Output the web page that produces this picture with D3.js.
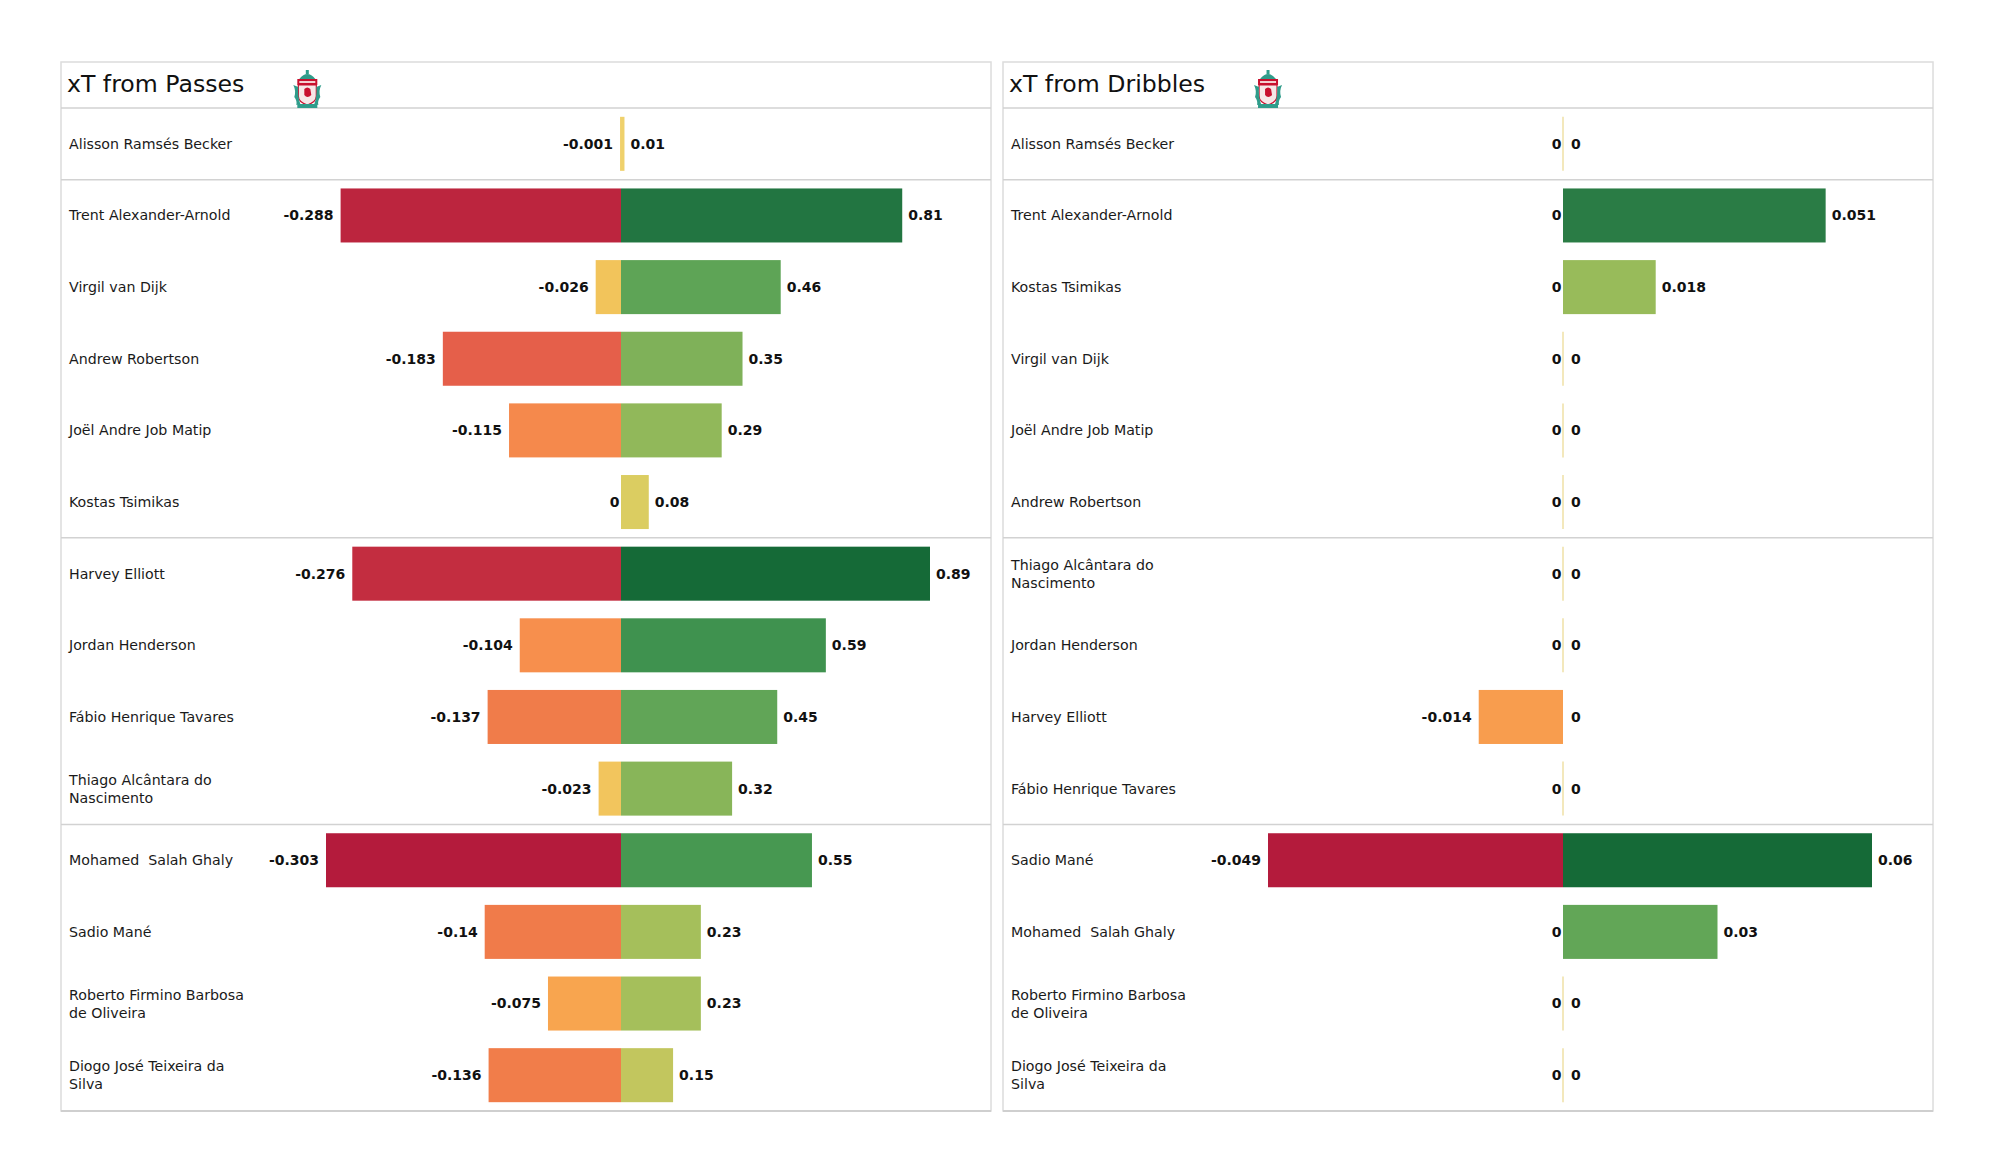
<!DOCTYPE html>
<html>
<head>
<meta charset="utf-8">
<script src="https://cdn.jsdelivr.net/npm/d3@7"></script>
<style>
  html, body { margin: 0; padding: 0; background: #ffffff; }
  svg { display: block; font-family: "DejaVu Sans", sans-serif; }
</style>
</head>
<body>
<svg id="chart" width="2000" height="1175"></svg>
<script>
// ---------- DATA ----------
const passTitle = "xT from Passes";
const passPlayers = [
  "Alisson Ramsés Becker", "Trent Alexander-Arnold", "Virgil van Dijk", "Andrew Robertson",
  "Joël Andre Job Matip", "Kostas Tsimikas", "Harvey Elliott", "Jordan Henderson",
  "Fábio Henrique Tavares", "Thiago Alcântara do Nascimento", "Mohamed  Salah Ghaly",
  "Sadio Mané", "Roberto Firmino Barbosa de Oliveira", "Diogo José Teixeira da Silva"
];
const passNeg = [-0.001, -0.288, -0.026, -0.183, -0.115, 0, -0.276, -0.104, -0.137, -0.023, -0.303, -0.14, -0.075, -0.136];
const passPos = [0.01, 0.81, 0.46, 0.35, 0.29, 0.08, 0.89, 0.59, 0.45, 0.32, 0.55, 0.23, 0.23, 0.15];

const dribTitle = "xT from Dribbles";
const dribPlayers = [
  "Alisson Ramsés Becker", "Trent Alexander-Arnold", "Kostas Tsimikas", "Virgil van Dijk",
  "Joël Andre Job Matip", "Andrew Robertson", "Thiago Alcântara do Nascimento", "Jordan Henderson",
  "Harvey Elliott", "Fábio Henrique Tavares", "Sadio Mané", "Mohamed  Salah Ghaly",
  "Roberto Firmino Barbosa de Oliveira", "Diogo José Teixeira da Silva"
];
const dribNeg = [0, 0, 0, 0, 0, 0, 0, 0, -0.014, 0, -0.049, 0, 0, 0];
const dribPos = [0, 0.051, 0.018, 0, 0, 0, 0, 0, 0, 0, 0.06, 0.03, 0, 0];

// rows after which a group separator is drawn
const groupBreaks = [0, 5, 9];

// ---------- LAYOUT ----------
const svg = d3.select("#chart");
const panelTop = 62, headerBottom = 108, panelBottom = 1111;
const panelW = 930;
const zeroOffset = 560;
const negLen = 295, posLen = 309;

const negColor = d3.scaleLinear()
  .domain([0, 0.09, 0.25, 0.34, 0.46, 0.6, 0.91, 1])
  .range(["#f2d26e", "#f2c35a", "#f8a54f", "#f7904d", "#f07b4a", "#e5604a", "#c32d40", "#b41b3c"])
  .clamp(true);
const posColor = d3.scaleLinear()
  .domain([0, 0.1, 0.3, 0.5, 0.65, 0.9, 1])
  .range(["#f2d26e", "#d8cc60", "#98bb5a", "#62a657", "#409450", "#247642", "#156a37"])
  .clamp(true);

function wrap(name, width) {
  const words = name.split(" ");
  const lines = [];
  let cur = "";
  words.forEach((w, i) => {
    const cand = cur === "" && i === 0 ? w : cur + " " + w;
    if (cand.length > width && cur !== "") { lines.push(cur); cur = w; }
    else cur = cand;
  });
  lines.push(cur);
  return lines;
}

function drawCrest(g) {
  // simplified club crest (about 28 x 38)
  const teal = "#2f9c8a", red = "#c8102e";
  g.append("path").attr("d", "M6,9 Q14,-1 22,9 Z").attr("fill", teal);
  g.append("rect").attr("x", 12.5).attr("y", 0).attr("width", 3).attr("height", 4).attr("fill", teal);
  g.append("rect").attr("x", 4).attr("y", 9).attr("width", 20).attr("height", 6).attr("fill", red);
  g.append("rect").attr("x", 6).attr("y", 11).attr("width", 16).attr("height", 2).attr("fill", "#f3d0d0");
  g.append("path").attr("d", "M5,15 L23,15 L23,26 Q23,32 14,35 Q5,32 5,26 Z").attr("fill", "#f6e7e7").attr("stroke", red).attr("stroke-width", 1.2);
  g.append("path").attr("d", "M11,19 Q14,16 17,19 L18,25 Q14,29 11,25 Z").attr("fill", red);
  g.append("path").attr("d", "M0,15 Q3,21 1,27 Q4,31 3,35 L7,34 Q4,25 5,17 Z").attr("fill", teal);
  g.append("path").attr("d", "M28,15 Q25,21 27,27 Q24,31 25,35 L21,34 Q24,25 23,17 Z").attr("fill", teal);
  g.append("rect").attr("x", 4).attr("y", 34).attr("width", 20).attr("height", 4).attr("fill", teal);
}

function drawPanel(left, title, players, neg, pos) {
  const g = svg.append("g");
  const n = players.length;
  const zeroX = left + zeroOffset;

  const y = d3.scaleBand().domain(d3.range(n)).range([headerBottom, panelBottom])
    .paddingInner(0.246).paddingOuter(0.123);
  const rowH = (panelBottom - headerBottom) / n;

  const xNeg = d3.scaleLinear().domain([0, d3.max(neg, d => Math.abs(d))]).range([zeroX, zeroX - negLen]);
  const xPos = d3.scaleLinear().domain([0, d3.max(pos)]).range([zeroX, zeroX + posLen]);

  // panel frame
  g.append("rect").attr("x", left).attr("y", panelTop).attr("width", panelW)
    .attr("height", panelBottom - panelTop).attr("fill", "#ffffff")
    .attr("stroke", "#dcdcdc").attr("stroke-width", 1.5);
  g.append("line").attr("x1", left).attr("x2", left + panelW)
    .attr("y1", headerBottom).attr("y2", headerBottom)
    .attr("stroke", "#d2d2d2").attr("stroke-width", 1.5);
  g.append("line").attr("x1", left).attr("x2", left + panelW)
    .attr("y1", panelBottom).attr("y2", panelBottom)
    .attr("stroke", "#cfcfcf").attr("stroke-width", 2);

  groupBreaks.forEach(b => {
    const yy = headerBottom + (b + 1) * rowH;
    g.append("line").attr("x1", left).attr("x2", left + panelW)
      .attr("y1", yy).attr("y2", yy)
      .attr("stroke", "#d2d2d2").attr("stroke-width", 1.5);
  });

  // title
  const t = g.append("text").attr("x", left + 6).attr("y", 92)
    .attr("font-size", 23.6).attr("fill", "#111").text(title);
  const tw = t.node().getComputedTextLength();
  drawCrest(g.append("g").attr("transform", `translate(${left + 6 + tw + 49},70)`));

  const rows = d3.range(n).map(i => ({ i, name: players[i], neg: neg[i], pos: pos[i] }));

  // bars
  const negMax = d3.max(neg, d => Math.abs(d));
  const posMax = d3.max(pos);
  g.selectAll(".negbar").data(rows.filter(d => d.neg !== 0)).join("rect")
    .attr("x", d => xNeg(Math.abs(d.neg))).attr("y", d => y(d.i))
    .attr("width", d => zeroX - xNeg(Math.abs(d.neg))).attr("height", y.bandwidth())
    .attr("fill", d => negColor(Math.abs(d.neg) / negMax));
  g.selectAll(".posbar").data(rows.filter(d => d.pos !== 0)).join("rect")
    .attr("x", zeroX).attr("y", d => y(d.i))
    .attr("width", d => Math.max(0, xPos(d.pos) - zeroX)).attr("height", y.bandwidth())
    .attr("fill", d => posColor(d.pos / posMax));
  // zero-length bars drawn as thin lines
  g.selectAll(".zeroline").data(rows.filter(d => d.neg === 0 && d.pos === 0)).join("line")
    .attr("x1", zeroX).attr("x2", zeroX)
    .attr("y1", d => y(d.i)).attr("y2", d => y(d.i) + y.bandwidth())
    .attr("stroke", "#efe0a6").attr("stroke-width", 1.5);

  // value labels
  g.selectAll(".neglab").data(rows).join("text")
    .attr("x", d => d.neg < 0 ? xNeg(Math.abs(d.neg)) - 7 : zeroX - 1.5)
    .attr("y", d => y(d.i) + y.bandwidth() / 2).attr("dy", "0.35em")
    .attr("text-anchor", "end").attr("font-size", 14).attr("font-weight", "bold").attr("fill", "#111")
    .text(d => String(d.neg));
  g.selectAll(".poslab").data(rows).join("text")
    .attr("x", d => d.pos > 0 ? xPos(d.pos) + 6 : zeroX + 8)
    .attr("y", d => y(d.i) + y.bandwidth() / 2).attr("dy", "0.35em")
    .attr("text-anchor", "start").attr("font-size", 14).attr("font-weight", "bold").attr("fill", "#111")
    .text(d => String(d.pos));

  // player names
  const nameG = g.selectAll(".name").data(rows).join("text")
    .attr("x", left + 8).attr("font-size", 14.2).attr("fill", "#1a1a1a");
  nameG.each(function(d) {
    const lines = wrap(d.name, 23);
    const cy = y(d.i) + y.bandwidth() / 2;
    const lh = 18;
    const sel = d3.select(this);
    lines.forEach((ln, k) => {
      sel.append("tspan").attr("x", left + 8)
        .attr("y", cy + (k - (lines.length - 1) / 2) * lh)
        .attr("dy", "0.35em")
        .attr("xml:space", "preserve")
        .style("white-space", "pre")
        .text(ln);
    });
  });
}

drawPanel(61, passTitle, passPlayers, passNeg, passPos);
drawPanel(1003, dribTitle, dribPlayers, dribNeg, dribPos);
</script>
</body>
</html>
